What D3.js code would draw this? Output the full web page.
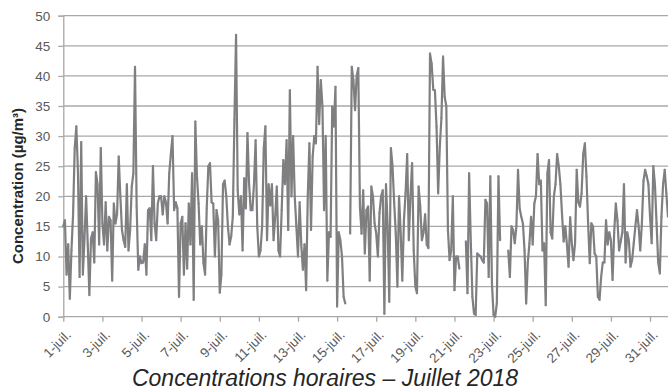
<!DOCTYPE html>
<html>
<head>
<meta charset="utf-8">
<script src="https://cdn.jsdelivr.net/npm/d3@7"></script>
<style>
  html, body { margin: 0; padding: 0; background: #ffffff; }
  svg { display: block; }
</style>
</head>
<body>
<svg id="chart" width="668" height="392"></svg>
<script>
// Concentrations for July 2018, one reading every 2 hours (00h, 02h, ... 22h);
// null marks a missing reading (the line is broken there).
const monthStart = new Date(2018, 6, 1);
const monthEnd = new Date(2018, 7, 1);
const stepHours = 2;

const concentration = [
  15, 16, 7, 12, 3, 11, 17, 28, 31.6, 24, 6.6, 29,                   // 1 juil.
  7, 13, 20, 12, 3.6, 13, 14, 9, 24, 22, 12, 28,                     // 2
  15.5, 12, 19, 11, 16.6, 16, 6, 18.8, 15.5, 17, 26.6, 20,           // 3
  14.4, 12.7, 11.6, 22, 11, 14.4, 21.6, 23.8, 41.5, 18.3, 7.8, 10,   // 4
  8.9, 9, 12, 7, 17.7, 18, 12.7, 25, 15.5, 12.7, 18.8, 20,           // 5
  20, 17, 20, 19, 15.5, 23.8, 27, 30, 17.7, 19, 18, 3.3,             // 6
  15.5, 16.6, 7, 15.5, 8, 18.8, 12, 23.8, 2.8, 32.4, 23.3, 18.8,     // 7
  12, 15, 8.9, 7, 18, 25, 25.5, 19, 18.8, 10, 17.7, 16,              // 8
  4, 7, 22, 22.6, 20, 15, 12, 13.3, 16.6, 32.7, 46.8, 21,            // 9
  17, 20, 11, 23, 18, 30.5, 22, 17.7, 17.7, 22, 29.3, 15,            // 10
  10, 11, 15, 28, 31.6, 12.7, 22, 18.5, 22, 12.7, 16.6, 21.6,        // 11
  11, 10, 17.7, 26, 22, 29.3, 14.4, 37.6, 20, 30, 20, 15,            // 12
  10, 19, 12, 7.8, 12, 4.4, 20, 28.8, 14.4, 26.6, 30, 28.8,          // 13
  41.5, 32, 39.3, 34.9, 17.7, 30, 6, 14, 13.3, 34.9, 31.6, 38.2,     // 14
  1.7, 14, 12.7, 10, 3.3, 2.2, null, null, 13.8, 41.5, 39.3, 34.3,   // 15
  40, 41.3, 18.3, 13.8, 21, 10.5, 17.7, 18.3, 6, 21.6, 20, 15.5,     // 16
  13.8, 10, 17.2, 20, 21, 0.5, 22, 15, 2.5, 28, 25, 19,              // 17
  13.8, 5, 20, 14, 6, 16, 20.5, 27, 12.7, 20, 25.5, 11,              // 18
  5, 3.9, 21.6, 18.3, 12.7, 14, 17, 12, 11.4, 43.7, 42, 37.7,        // 19
  37.6, 31.6, 20.5, 28.2, 33, 43.2, 36.5, 35, 14.4, 9.4, 11, 20,     // 20
  4.4, 10, 10, 8, null, null, null, 12.5, 3.9, 23.8, 12.7, 3.3,      // 21
  0.5, 0.3, 10.5, 10.2, 10, 9.4, 9, 19.4, 18.8, 6.6, 23.3, 5.5,      // 22
  0.3, 0, 2.2, 23.3, 12.7, null, null, null, null, 11, 6.6, 15,      // 23
  14.4, 12.2, 15, 24.4, 18, 16.6, 15.5, 11, 2.2, 9, 12.2, 16.6,      // 24
  12, 18.8, 20, 27, 22, 22.6, 11, 12.2, 1.9, 23.8, 26, 14,           // 25
  13, 20, 22, 27, 25, 22, 17, 12.5, 15, 12, 8.3, 16.5,               // 26
  12.2, 9.4, 12.2, 24.4, 19, 18.3, 20.5, 27, 28.8, 23.3, 15.5, 8.9,  // 27
  15.5, 15, 10.5, 10, 3.3, 2.8, 6.6, 9, 9, 16, 12, 14,               // 28
  12.7, 6.1, 14, 18.8, 16, 11, 12.5, 14, 22, 9, 14, 12.7,            // 29
  8.3, 9.4, 12.2, 15, 17.7, 15, 11, 15.5, 22.6, 24.4, 23.3, 22,      // 30
  16.6, 12.2, 25, 22, 15.5, 9, 7.2, 16.6, 22, 24.4, 20.5, 16.6       // 31
];

const yTickValues = [0, 5, 10, 15, 20, 25, 30, 35, 40, 45, 50];
const tickDays = [1, 3, 5, 7, 9, 11, 13, 15, 17, 19, 21, 23, 25, 27, 29, 31];
const tickLabels = ["1-juil.", "3-juil.", "5-juil.", "7-juil.", "9-juil.", "11-juil.",
  "13-juil.", "15-juil.", "17-juil.", "19-juil.", "21-juil.", "23-juil.",
  "25-juil.", "27-juil.", "29-juil.", "31-juil."];
const yTitle = "Concentration (µg/m³)";
const chartTitle = "Concentrations horaires – Juillet 2018";

const svg = d3.select("#chart");
const plot = { left: 63.3, right: 669.6, top: 15.7, bottom: 316.7 };
const gridColor = "#a8a8a8";
const textColor = "#595959";
const fontFamily = "'Liberation Sans', Arial, sans-serif";

const x = d3.scaleTime().domain([monthStart, monthEnd]).range([plot.left, plot.right]);
const y = d3.scaleLinear().domain([0, 50]).range([plot.bottom, plot.top]);

const points = concentration.map((v, i) => ({
  t: d3.timeHour.offset(monthStart, i * stepHours),
  v: v
}));

// horizontal gridlines
svg.append("g")
  .selectAll("line")
  .data(yTickValues.filter(v => v > 0))
  .join("line")
  .attr("x1", plot.left)
  .attr("x2", 668)
  .attr("y1", d => y(d))
  .attr("y2", d => y(d))
  .attr("stroke", gridColor)
  .attr("stroke-width", 1.3);

// y axis
const yAxis = svg.append("g")
  .attr("transform", `translate(${plot.left},0)`)
  .call(d3.axisLeft(y).tickValues(yTickValues).tickSize(5).tickPadding(8).tickFormat(d3.format("d")));
yAxis.select(".domain").attr("stroke", gridColor).attr("stroke-width", 1.3);
yAxis.selectAll(".tick line").attr("stroke", gridColor).attr("stroke-width", 1.3);
yAxis.selectAll(".tick text")
  .attr("fill", textColor)
  .style("font-family", fontFamily)
  .style("font-size", "13.5px");

// x axis with rotated day labels
const xAxis = svg.append("g")
  .attr("transform", `translate(0,${plot.bottom})`)
  .call(d3.axisBottom(x)
    .tickValues(tickDays.map(d => new Date(2018, 6, d)))
    .tickFormat((d, i) => tickLabels[i])
    .tickSize(5)
    .tickSizeOuter(0));
xAxis.select(".domain").attr("stroke", gridColor).attr("stroke-width", 1.3)
  .attr("d", `M${plot.left},0H668`);
xAxis.selectAll(".tick line").attr("stroke", gridColor).attr("stroke-width", 1.3);
xAxis.selectAll(".tick text")
  .attr("x", 0).attr("y", 0).attr("dy", 0)
  .attr("text-anchor", "end")
  .attr("transform", "translate(8,19) rotate(-45)")
  .attr("fill", textColor)
  .style("font-family", fontFamily)
  .style("font-size", "13.5px");

// concentration line
const line = d3.line()
  .defined(d => d.v !== null)
  .x(d => x(d.t))
  .y(d => y(d.v));

svg.append("path")
  .datum(points)
  .attr("d", line)
  .attr("fill", "none")
  .attr("stroke", "#7f7f7f")
  .attr("stroke-width", 2.2)
  .attr("stroke-linejoin", "round");

// small point markers
svg.append("g")
  .selectAll("circle")
  .data(points.filter(d => d.v !== null))
  .join("circle")
  .attr("cx", d => x(d.t))
  .attr("cy", d => y(d.v))
  .attr("r", 1.1)
  .attr("fill", "#7b8798");

// y axis title
svg.append("text")
  .attr("transform", "translate(23,186) rotate(-90)")
  .attr("text-anchor", "middle")
  .attr("fill", "#262626")
  .style("font-family", fontFamily)
  .style("font-size", "15px")
  .style("font-weight", "bold")
  .text(yTitle);

// chart title
svg.append("text")
  .attr("x", 325)
  .attr("y", 386)
  .attr("text-anchor", "middle")
  .attr("fill", "#262626")
  .style("font-family", fontFamily)
  .style("font-size", "23px")
  .style("font-style", "italic")
  .text(chartTitle);
</script>
</body>
</html>
